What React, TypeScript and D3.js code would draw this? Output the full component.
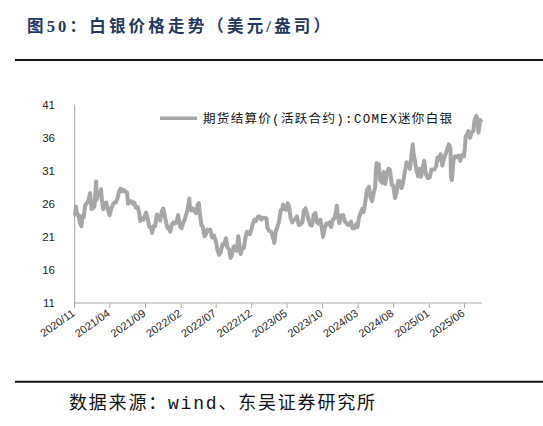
import { useMemo } from 'react'
import { scaleTime, scaleLinear, line, timeParse } from 'd3'

const TITLE = '图50：白银价格走势（美元/盎司）'
const SOURCE = '数据来源：wind、东吴证券研究所'
const SERIES_NAME = '期货结算价(活跃合约):COMEX迷你白银'

const Y_TICKS = [11, 16, 21, 26, 31, 36, 41]
const X_TICKS = [
  '2020/11', '2021/04', '2021/09', '2022/02', '2022/07', '2022/12',
  '2023/05', '2023/10', '2024/03', '2024/08', '2025/01', '2025/06',
]
const X_DOMAIN = ['2020-11-01', '2025-08-14']

// settlement prices (USD/oz)
const DATES = [
  '2020-11-02', '2020-11-06', '2020-11-12', '2020-11-18', '2020-11-24', '2020-11-30',
  '2020-12-04', '2020-12-10', '2020-12-16', '2020-12-21', '2020-12-28',
  '2021-01-06', '2021-01-12', '2021-01-18', '2021-01-25', '2021-02-01', '2021-02-03',
  '2021-02-09', '2021-02-16', '2021-02-22', '2021-02-26', '2021-03-04', '2021-03-10',
  '2021-03-17', '2021-03-24', '2021-03-31', '2021-04-07', '2021-04-14', '2021-04-21',
  '2021-04-26', '2021-05-03', '2021-05-10', '2021-05-17', '2021-05-24', '2021-05-31',
  '2021-06-07', '2021-06-14', '2021-06-18', '2021-06-25', '2021-07-02', '2021-07-09',
  '2021-07-15', '2021-07-22', '2021-07-30', '2021-08-06', '2021-08-09', '2021-08-16',
  '2021-08-23', '2021-08-30', '2021-09-03', '2021-09-10', '2021-09-17', '2021-09-24',
  '2021-09-29', '2021-10-05', '2021-10-12', '2021-10-20', '2021-10-27', '2021-11-03',
  '2021-11-10', '2021-11-16', '2021-11-23', '2021-11-30', '2021-12-06', '2021-12-13',
  '2021-12-16', '2021-12-22', '2021-12-30',
  '2022-01-04', '2022-01-12', '2022-01-19', '2022-01-27', '2022-02-03', '2022-02-10',
  '2022-02-16', '2022-02-24', '2022-03-01', '2022-03-08', '2022-03-10', '2022-03-16',
  '2022-03-23', '2022-03-30', '2022-04-06', '2022-04-13', '2022-04-18', '2022-04-22',
  '2022-04-29', '2022-05-05', '2022-05-12', '2022-05-18', '2022-05-25', '2022-06-01',
  '2022-06-06', '2022-06-14', '2022-06-22', '2022-06-30', '2022-07-06', '2022-07-14',
  '2022-07-21', '2022-07-28', '2022-08-05', '2022-08-12', '2022-08-19', '2022-08-26',
  '2022-09-01', '2022-09-08', '2022-09-14', '2022-09-21', '2022-09-28', '2022-10-04',
  '2022-10-11', '2022-10-14', '2022-10-21', '2022-10-28', '2022-11-04', '2022-11-10',
  '2022-11-16', '2022-11-23', '2022-11-30', '2022-12-05', '2022-12-12', '2022-12-19',
  '2022-12-28',
  '2023-01-04', '2023-01-11', '2023-01-18', '2023-01-26', '2023-02-02', '2023-02-06',
  '2023-02-14', '2023-02-22', '2023-03-01', '2023-03-08', '2023-03-14', '2023-03-21',
  '2023-03-28', '2023-04-04', '2023-04-11', '2023-04-14', '2023-04-21', '2023-04-28',
  '2023-05-04', '2023-05-10', '2023-05-17', '2023-05-24', '2023-05-31', '2023-06-06',
  '2023-06-13', '2023-06-21', '2023-06-29', '2023-07-06', '2023-07-13', '2023-07-20',
  '2023-07-27', '2023-08-03', '2023-08-10', '2023-08-16', '2023-08-24', '2023-08-31',
  '2023-09-07', '2023-09-14', '2023-09-21', '2023-09-28', '2023-10-03', '2023-10-10',
  '2023-10-17', '2023-10-24', '2023-10-31', '2023-11-07', '2023-11-14', '2023-11-21',
  '2023-11-28', '2023-12-01', '2023-12-05', '2023-12-12', '2023-12-19', '2023-12-28',
  '2024-01-04', '2024-01-11', '2024-01-18', '2024-01-24', '2024-01-31', '2024-02-07',
  '2024-02-14', '2024-02-22', '2024-02-28', '2024-03-05', '2024-03-12', '2024-03-19',
  '2024-03-26', '2024-04-02', '2024-04-08', '2024-04-12', '2024-04-17', '2024-04-23',
  '2024-04-30', '2024-05-07', '2024-05-14', '2024-05-17', '2024-05-20', '2024-05-24',
  '2024-05-29', '2024-06-04', '2024-06-07', '2024-06-13', '2024-06-20', '2024-06-26',
  '2024-07-03', '2024-07-10', '2024-07-16', '2024-07-24', '2024-07-30', '2024-08-07',
  '2024-08-14', '2024-08-21', '2024-08-28', '2024-09-04', '2024-09-11', '2024-09-18',
  '2024-09-26', '2024-10-03', '2024-10-10', '2024-10-18', '2024-10-22', '2024-10-25',
  '2024-10-31', '2024-11-06', '2024-11-14', '2024-11-20', '2024-11-27', '2024-12-04',
  '2024-12-10', '2024-12-18', '2024-12-27',
  '2025-01-03', '2025-01-10', '2025-01-17', '2025-01-24', '2025-01-31', '2025-02-05',
  '2025-02-12', '2025-02-19', '2025-02-26', '2025-03-05', '2025-03-12', '2025-03-19',
  '2025-03-26', '2025-04-02', '2025-04-04', '2025-04-08', '2025-04-15', '2025-04-22',
  '2025-04-29', '2025-05-06', '2025-05-14', '2025-05-21', '2025-05-29', '2025-06-03',
  '2025-06-06', '2025-06-12', '2025-06-18', '2025-06-25', '2025-07-02', '2025-07-09',
  '2025-07-14', '2025-07-22', '2025-07-25', '2025-07-31', '2025-08-05', '2025-08-08',
  '2025-08-13',
]

const PRICES = [
  24.2, 25.6, 24.3, 24.3, 23.0, 22.6,
  24.2, 24.0, 25.8, 26.0, 26.3,
  27.6, 25.2, 25.3, 25.6, 29.4, 26.6,
  27.3, 27.3, 28.2, 26.4, 25.2, 26.1,
  26.2, 25.0, 24.3, 25.3, 25.9, 26.2,
  26.2, 26.8, 27.8, 28.3, 27.9, 28.1,
  27.8, 27.7, 26.0, 26.3, 26.4, 26.0,
  26.2, 25.4, 25.5, 24.4, 23.4, 23.8,
  23.6, 24.2, 24.7, 23.8, 22.5, 22.5,
  21.6, 22.6, 22.6, 24.4, 24.1, 23.5,
  24.9, 25.3, 24.1, 22.9, 22.3, 22.1,
  21.8, 22.8, 23.2,
  23.0, 23.2, 24.3, 22.6, 22.3, 23.2,
  23.6, 24.6, 25.2, 26.8, 25.6, 25.0,
  25.3, 24.9, 24.6, 25.9, 26.1, 24.6,
  22.8, 22.5, 21.1, 21.4, 22.1, 21.9,
  22.1, 20.9, 21.2, 20.3, 19.1, 18.3,
  18.7, 19.9, 19.9, 20.8, 19.4, 19.1,
  17.8, 18.4, 19.5, 19.6, 18.9, 21.1,
  19.3, 18.4, 19.3, 19.3, 20.9, 21.8,
  21.7, 21.4, 22.2, 22.9, 23.6, 23.4,
  24.1,
  24.1, 23.6, 23.9, 23.9, 23.8, 22.4,
  21.9, 21.8, 21.1, 20.1, 21.9, 22.5,
  23.3, 25.0, 25.2, 25.9, 25.2, 25.1,
  26.1, 25.6, 23.8, 23.2, 23.6, 23.7,
  24.1, 22.8, 22.9, 23.2, 25.0, 25.3,
  24.4, 23.5, 22.8, 22.7, 24.3, 24.6,
  23.2, 23.0, 23.6, 22.3, 21.0, 22.3,
  23.0, 22.9, 23.2, 22.5, 23.6, 23.8,
  24.9, 25.7, 24.3, 23.1, 24.2, 24.3,
  23.4, 23.1, 22.8, 22.9, 23.3, 22.3,
  22.3, 22.9, 22.5, 23.9, 24.6, 25.2,
  24.8, 26.5, 28.0, 28.3, 28.6, 27.1,
  26.4, 27.6, 28.6, 31.2, 32.2, 30.4,
  32.0, 29.6, 29.4, 29.2, 30.8, 29.0,
  30.5, 31.3, 31.2, 28.9, 28.8, 26.9,
  27.8, 29.5, 29.4, 28.4, 29.3, 30.8,
  32.3, 31.9, 31.3, 33.8, 35.0, 33.8,
  32.6, 31.2, 30.2, 31.3, 30.1, 31.4,
  32.5, 30.4, 29.9,
  30.0, 31.2, 31.2, 31.2, 31.8, 33.0,
  32.7, 33.5, 31.8, 32.8, 33.5, 34.3,
  35.0, 34.4, 30.0, 29.6, 32.6, 33.2,
  33.1, 33.3, 32.5, 33.4, 33.2, 34.5,
  36.2, 36.5, 37.0, 36.0, 36.8, 37.0,
  38.6, 39.3, 39.0, 36.8, 37.9, 38.7,
  38.3,
]

const W = 543
const H = 426
const LINE_COLOR = '#a6a6a6'
const AXIS_COLOR = '#a6a6a6'

export default function App() {
  const parse = timeParse('%Y-%m-%d')
  const parseTick = timeParse('%Y/%m')

  const { x, y, path } = useMemo(() => {
    const x = scaleTime()
      .domain(X_DOMAIN.map((d) => parse(d) as Date))
      .range([74.7, 481.7])
    const y = scaleLinear().domain([11, 41]).range([303, 104.7])
    const pts = DATES.map((d, i) => [parse(d) as Date, PRICES[i]] as [Date, number])
    const gen = line<[Date, number]>()
      .x((d) => x(d[0]))
      .y((d) => y(d[1]))
    return { x, y, path: gen(pts) ?? '' }
  }, [])

  const [x0, x1] = x.range()
  const [y0, y1] = y.range()

  return (
    <svg width={W} height={H} viewBox={`0 0 ${W} ${H}`} style={{ display: 'block', background: '#fff' }}>
      <style>{'body{margin:0}'}</style>

      {/* header */}
      <text
        x={27}
        y={32}
        fill="#1f3864"
        fontFamily="'Liberation Serif','Noto Sans CJK SC'"
        fontWeight="bold"
        fontSize={16.5}
        textLength={303}
        lengthAdjust="spacing"
      >
        {TITLE}
      </text>
      <line x1={15} x2={543} y1={60} y2={60} stroke="#111" strokeWidth={2} />

      {/* axes */}
      <line x1={x0} x2={x0} y1={y1} y2={y0} stroke={AXIS_COLOR} strokeWidth={1} />
      <line x1={x0} x2={x1} y1={y0} y2={y0} stroke={AXIS_COLOR} strokeWidth={1} />
      {Y_TICKS.map((t) => (
        <text
          key={t}
          x={55}
          y={y(t)}
          dy="0.35em"
          textAnchor="end"
          fontFamily="'Liberation Sans', Arial, sans-serif"
          fontSize={11.5}
          fill="#222"
        >
          {t}
        </text>
      ))}
      {X_TICKS.map((t) => {
        const tx = x(parseTick(t) as Date)
        return (
          <g key={t}>
            <line x1={tx} x2={tx} y1={y0} y2={y0 + 5} stroke={AXIS_COLOR} strokeWidth={1} />
            <text
              transform={`translate(${tx + 1},315) rotate(-35)`}
              textAnchor="end"
              fontFamily="'Liberation Sans', Arial, sans-serif"
              fontSize={11}
              fill="#222"
            >
              {t}
            </text>
          </g>
        )
      })}

      {/* series */}
      <path d={path} fill="none" stroke={LINE_COLOR} strokeWidth={4} strokeLinejoin="round" />

      {/* legend */}
      <line x1={160} x2={197} y1={118.3} y2={118.3} stroke={LINE_COLOR} strokeWidth={3.5} />
      <text
        x={203}
        y={122.5}
        fontFamily="'Liberation Mono','Noto Sans CJK SC'"
        fontSize={12.5}
        fill="#111"
        textLength={249}
        lengthAdjust="spacing"
      >
        {SERIES_NAME}
      </text>

      {/* footer */}
      <line x1={15} x2={543} y1={381.7} y2={381.7} stroke="#111" strokeWidth={2} />
      <text
        x={69}
        y={409}
        fontFamily="'Liberation Mono','Noto Sans CJK SC'"
        fontSize={18}
        fill="#111"
        textLength={306}
        lengthAdjust="spacing"
      >
        {SOURCE}
      </text>
    </svg>
  )
}
